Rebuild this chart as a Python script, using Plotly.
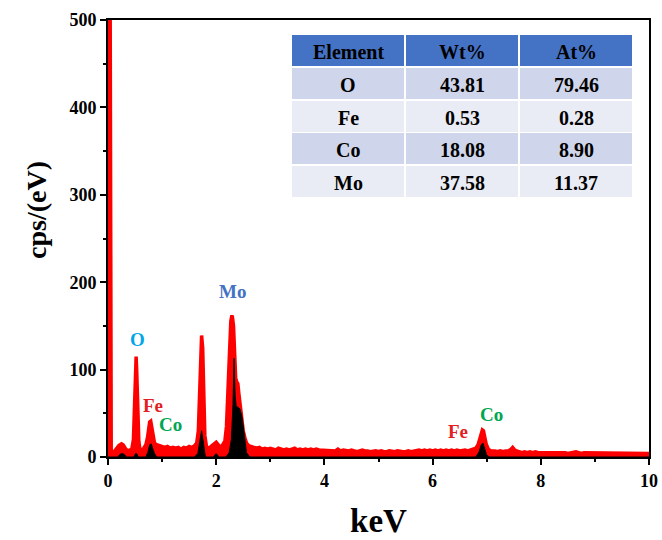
import plotly.graph_objects as go

# ---------------- data ----------------
# Total EDS spectrum (red)
energy_kev = [
    0.00, 0.02, 0.04, 0.06, 0.10, 0.15, 0.20, 0.25, 0.28, 0.32, 0.36, 0.40, 0.44, 0.47, 0.49,
    0.51, 0.52, 0.53, 0.55, 0.57, 0.59, 0.62, 0.66, 0.70, 0.73, 0.75, 0.77, 0.79, 0.81, 0.83,
    0.86, 0.90, 0.95, 1.00, 1.05, 1.10, 1.15, 1.20, 1.25, 1.30, 1.35, 1.40, 1.45, 1.50, 1.55,
    1.60, 1.64, 1.67, 1.69, 1.71, 1.73, 1.75, 1.77, 1.79, 1.82, 1.86, 1.90, 1.95, 2.00, 2.04,
    2.08, 2.12, 2.16, 2.19, 2.22, 2.25, 2.27, 2.29, 2.30, 2.32, 2.34, 2.36, 2.38, 2.40, 2.42,
    2.44, 2.46, 2.48, 2.50, 2.53, 2.56, 2.60, 2.65, 2.70,
    2.75, 2.80, 2.85, 2.90, 2.95, 3.00, 3.05, 3.10, 3.15, 3.20, 3.25, 3.30, 3.35, 3.40, 3.45,
    3.50, 3.55, 3.60, 3.65, 3.70, 3.75, 3.80, 3.85, 3.90, 3.95, 4.00,
    4.05, 4.10, 4.15, 4.20, 4.25, 4.30, 4.35, 4.40, 4.45, 4.50, 4.55, 4.60, 4.65, 4.70, 4.75,
    4.80, 4.85, 4.90, 4.95, 5.00, 5.05, 5.10, 5.15, 5.20, 5.25, 5.30, 5.35, 5.40, 5.45, 5.50,
    5.55, 5.60, 5.65, 5.70, 5.75, 5.80, 5.85, 5.90, 5.95, 6.00,
    6.05, 6.10, 6.15, 6.20, 6.25, 6.30, 6.35, 6.40, 6.45, 6.50, 6.55, 6.60, 6.65, 6.70, 6.75,
    6.80, 6.84, 6.87, 6.90, 6.92, 6.94, 6.96, 6.99, 7.03, 7.08, 7.15, 7.20, 7.25, 7.30, 7.35,
    7.40, 7.45, 7.48, 7.52, 7.55,
    7.60, 7.65, 7.70, 7.75, 7.80, 7.85, 7.90, 7.95, 8.00, 8.05, 8.10, 8.15, 8.20, 8.25, 8.30,
    8.35, 8.40, 8.45, 8.50, 8.55, 8.60, 8.65, 8.70, 8.75, 8.80, 8.85, 8.90, 8.95, 9.00, 9.05,
    9.10, 9.15, 9.20, 9.25, 9.30, 9.35, 9.40, 9.45, 9.50, 9.55, 9.60, 9.65, 9.70, 9.75, 9.80,
    9.85, 9.90, 9.95, 10.00,
]
counts_total = [
    520, 520, 520, 4, 5, 9, 13, 15, 14, 10, 7, 8, 9, 20, 60,
    105, 115, 100, 55, 18, 9, 8, 10, 14, 22, 32, 40, 41, 33, 22,
    16, 14, 13, 12, 11, 12, 10, 11, 10, 11, 9, 11, 10, 12, 11,
    13, 16, 30, 70, 120, 139, 125, 70, 25, 12, 10, 12, 15, 17, 14,
    11, 14, 18, 35, 80, 130, 155, 162, 160, 150, 115, 90, 86, 84, 72,
    60, 48, 38, 30, 22, 16, 13, 12, 11,
    10, 11, 9, 10, 9, 10, 9, 8, 10, 9, 8, 9, 8, 9, 10,
    8, 9, 8, 9, 8, 9, 8, 9, 8, 8, 7,
    8, 7, 8, 7, 9, 7, 8, 7, 7, 8, 7, 6, 7, 8, 7,
    7, 6, 7, 7, 6, 7, 6, 6, 7, 6, 6, 7, 6, 6, 6,
    7, 6, 7, 7, 8, 7, 8, 7, 8, 7,
    8, 7, 8, 7, 8, 7, 8, 7, 8, 7, 8, 8, 7, 8, 9,
    10, 14, 22, 28, 31, 30, 24, 15, 9, 7, 7, 6, 7, 6, 7,
    7, 9, 11, 8, 7,
    6, 5, 6, 5, 6, 5, 6, 5, 5, 6, 5, 5, 6, 5, 5,
    6, 5, 5, 4, 5, 5, 6, 5, 4, 5, 5, 4, 5, 5, 4,
    5, 4, 5, 5, 4, 5, 4, 4, 5, 4, 5, 4, 4, 5, 4,
    4, 5, 4, 4,
]

# Fitted / deconvoluted component (black)
energy_fit_kev = [
    0.00, 0.18, 0.22, 0.26, 0.30, 0.34, 0.48, 0.51, 0.53, 0.56, 0.70, 0.74, 0.77, 0.80, 0.83,
    0.86, 0.90, 1.60, 1.66, 1.69, 1.71, 1.73, 1.75, 1.77, 1.80, 1.95, 2.00, 2.05, 2.18, 2.24,
    2.28, 2.31, 2.33, 2.35, 2.37, 2.40, 2.44, 2.48, 2.52, 2.56, 2.62, 6.80, 6.86, 6.90, 6.93,
    6.96, 7.00, 7.05, 10.00,
]
counts_fit = [
    0, 0, 3, 4, 3, 0, 0, 4, 4, 0, 0, 6, 14, 15, 9,
    4, 0, 0, 4, 15, 26, 30, 22, 10, 0, 0, 4, 0, 0, 5,
    20, 60, 113, 70, 58, 57, 55, 45, 25, 5, 0, 0, 6, 14, 16,
    10, 2, 0, 0,
]

# Peak labels
label_text = ["O", "Fe", "Co", "Mo", "Fe", "Co"]
label_x = [0.54, 0.83, 1.15, 2.31, 6.47, 7.08]
label_y = [135, 59, 37, 189, 29, 49]
label_colors = ["#00A6E8", "#E31E24", "#00A651", "#4472C4", "#E31E24", "#00A651"]

# Composition table
table_header = ["Element", "Wt%", "At%"]
table_elements = ["O", "Fe", "Co", "Mo"]
table_wt = ["43.81", "0.53", "18.08", "37.58"]
table_at = ["79.46", "0.28", "8.90", "11.37"]

# ---------------- figure ----------------
FONT = "Liberation Serif"
W, H = 662, 540
ML, MR, MT, MB = 108, 13, 20, 83
PW, PH = W - ML - MR, H - MT - MB


def px_x(px):
    return (px - ML) / PW


def px_y(py):
    return (H - MB - py) / PH


fig = go.Figure()

fig.add_trace(go.Scatter(
    x=energy_kev, y=counts_total, mode="lines",
    line=dict(color="#FF0000", width=3.5),
    fill="tozeroy", fillcolor="#FF0000",
    showlegend=False, hoverinfo="skip",
))
fig.add_trace(go.Scatter(
    x=energy_fit_kev, y=counts_fit, mode="lines",
    line=dict(color="#000000", width=1),
    fill="tozeroy", fillcolor="#000000",
    showlegend=False, hoverinfo="skip",
))

for t, x, y, c in zip(label_text, label_x, label_y, label_colors):
    fig.add_annotation(x=x, y=y, text=f"<b>{t}</b>", showarrow=False,
                       font=dict(family=FONT, size=19, color=c))

# ----- table drawn with shapes + annotations -----
col_edges = [(292, 404), (406, 518), (520, 632)]
row_edges = [(35, 66), (68, 99), (101, 132), (133, 164), (166, 197)]
row_fill = ["#4472C4", "#CFD5EA", "#E9EBF5", "#CFD5EA", "#E9EBF5"]
table_cols = [table_elements, table_wt, table_at]
rows = [table_header] + [[table_cols[c][r] for c in range(3)] for r in range(len(table_elements))]

for ri, (y0, y1) in enumerate(row_edges):
    for ci, (x0, x1) in enumerate(col_edges):
        fig.add_shape(type="rect", xref="paper", yref="paper",
                      x0=px_x(x0), x1=px_x(x1), y0=px_y(y1), y1=px_y(y0),
                      fillcolor=row_fill[ri], line=dict(width=0), layer="above")
        fig.add_annotation(xref="paper", yref="paper",
                           x=px_x((x0 + x1) / 2), y=px_y((y0 + y1) / 2 + 1),
                           text=f"<b>{rows[ri][ci]}</b>", showarrow=False,
                           xanchor="center", yanchor="middle",
                           font=dict(family=FONT, size=20, color="black"))

# y-axis title as annotation (placed slightly above centre, as in the reference)
fig.add_annotation(xref="paper", yref="paper", x=px_x(36), y=px_y(210),
                   text="<b>cps/(eV)</b>", textangle=-90, showarrow=False,
                   xanchor="center", yanchor="middle",
                   font=dict(family=FONT, size=28, color="black"))

axis_common = dict(
    showline=True, linecolor="black", linewidth=2, mirror=True,
    ticks="outside", ticklen=6, tickwidth=2, tickcolor="black",
    showgrid=False, zeroline=False, automargin=False,
    tickfont=dict(family=FONT, size=18, color="black", weight="bold"),
)

fig.update_xaxes(
    range=[0, 10], tickvals=[0, 2, 4, 6, 8, 10],
    minor=dict(tickvals=[1, 3, 5, 7, 9], ticklen=3, tickwidth=2, tickcolor="black", ticks="outside"),
    title=dict(text="<b>keV</b>", font=dict(family=FONT, size=33, color="black"), standoff=19),
    **axis_common,
)
fig.update_yaxes(
    range=[0, 500], tickvals=[0, 100, 200, 300, 400, 500],
    minor=dict(tickvals=[50, 150, 250, 350, 450], ticklen=3, tickwidth=2, tickcolor="black", ticks="outside"),
    **axis_common,
)

fig.update_layout(
    width=W, height=H,
    margin=dict(l=ML, r=MR, t=MT, b=MB),
    paper_bgcolor="white", plot_bgcolor="white",
)

fig.write_html("out.html", config={"displayModeBar": False},
               post_script="document.body.style.margin='0';")
